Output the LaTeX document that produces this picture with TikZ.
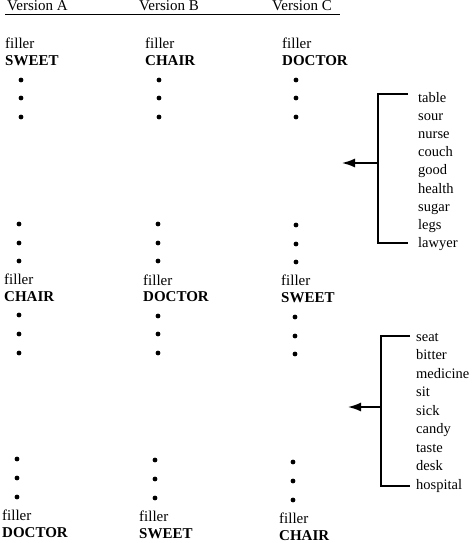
\documentclass[tikz,border=0pt]{standalone}
\usepackage{fontspec}
\setmainfont{Liberation Serif}
\usetikzlibrary{arrows.meta}
\tikzset{
  lbl/.style={anchor=west,inner sep=0pt,font=\fontsize{15}{15}\selectfont},
  word/.style={anchor=west,inner sep=0pt,font=\fontsize{15}{15}\selectfont\bfseries},
  lst/.style={anchor=base west,inner sep=0pt,font=\fontsize{14.5}{14.5}\selectfont},
  dotn/.style={circle,fill=black,inner sep=0pt,minimum size=4.8pt},
  brk/.style={line width=1.2pt},
  arr/.style={line width=1.5pt,-{Latex[length=13pt,width=9pt]}}
}
\begin{document}
\begin{tikzpicture}[x=1pt,y=-1pt]
\useasboundingbox (0,0) rectangle (474,543);
% header
\node[lbl] (hA) at (7,6) {Version A};
\node[lbl] (hB) at (139,6) {Version B};
\node[lbl] (hC) at (272,6) {Version C};
\coordinate (ulL) at (5,14.5);
\coordinate (ulR) at (340,14.5);
\draw[line width=0.9pt] (ulL) -- (ulR);
% column A
\node[lbl] (fA1) at (5,43) {filler};
\node[word] (wA1) at (5,61) {SWEET};
\foreach \y [count=\i] in {80,98,117} \node[dotn] (dA1\i) at (21,\y) {};
\foreach \y [count=\i] in {224,243,261} \node[dotn] (dA2\i) at (19,\y) {};
\node[lbl] (fA2) at (4,279) {filler};
\node[word] (wA2) at (4,297) {CHAIR};
\foreach \y [count=\i] in {315,334,353} \node[dotn] (dA3\i) at (19,\y) {};
\foreach \y [count=\i] in {459,478,497} \node[dotn] (dA4\i) at (17,\y) {};
\node[lbl] (fA3) at (2,515) {filler};
\node[word] (wA3) at (2,533) {DOCTOR};
% column B
\node[lbl] (fB1) at (145,43) {filler};
\node[word] (wB1) at (145,61) {CHAIR};
\foreach \y [count=\i] in {80,98,117} \node[dotn] (dB1\i) at (159,\y) {};
\foreach \y [count=\i] in {224,243,261} \node[dotn] (dB2\i) at (158,\y) {};
\node[lbl] (fB2) at (143,280) {filler};
\node[word] (wB2) at (143,297) {DOCTOR};
\foreach \y [count=\i] in {316,334,353} \node[dotn] (dB3\i) at (158,\y) {};
\foreach \y [count=\i] in {460,479,498} \node[dotn] (dB4\i) at (155,\y) {};
\node[lbl] (fB3) at (139,516) {filler};
\node[word] (wB3) at (139,534) {SWEET};
% column C
\node[lbl] (fC1) at (282,43) {filler};
\node[word] (wC1) at (282,61) {DOCTOR};
\foreach \y [count=\i] in {80,98,117} \node[dotn] (dC1\i) at (296,\y) {};
\foreach \y [count=\i] in {225,244,262} \node[dotn] (dC2\i) at (296,\y) {};
\node[lbl] (fC2) at (281,280) {filler};
\node[word] (wC2) at (281,298) {SWEET};
\foreach \y [count=\i] in {317,336,354} \node[dotn] (dC3\i) at (295,\y) {};
\foreach \y [count=\i] in {462,481,500} \node[dotn] (dC4\i) at (293,\y) {};
\node[lbl] (fC3) at (279,518) {filler};
\node[word] (wC3) at (279,535.5) {CHAIR};
% list 1
\foreach \w [count=\i] in {table,sour,nurse,couch,good,health,sugar,legs,lawyer}
  \node[lst] (la\i) at (418,{102.5+18.1*(\i-1)}) {\w};
\coordinate (b1t) at (378,94);
\coordinate (b1te) at (408,94);
\coordinate (b1b) at (378,243);
\coordinate (b1be) at (408,243);
\coordinate (b1m) at (378,163);
\coordinate (b1a) at (342,163);
\draw[brk] (b1te) -- (b1t) -- (b1b) -- (b1be);
\draw[arr] (b1m) -- (b1a);
% list 2
\foreach \w [count=\i] in {seat,bitter,medicine,sit,sick,candy,taste,desk,hospital}
  \node[lst] (lb\i) at (416,{341+18.5*(\i-1)}) {\w};
\coordinate (b2t) at (381,336);
\coordinate (b2te) at (410,336);
\coordinate (b2b) at (381,486);
\coordinate (b2be) at (410,486);
\coordinate (b2m) at (381,407);
\coordinate (b2a) at (348,407);
\draw[brk] (b2te) -- (b2t) -- (b2b) -- (b2be);
\draw[arr] (b2m) -- (b2a);
\end{tikzpicture}
\end{document}
